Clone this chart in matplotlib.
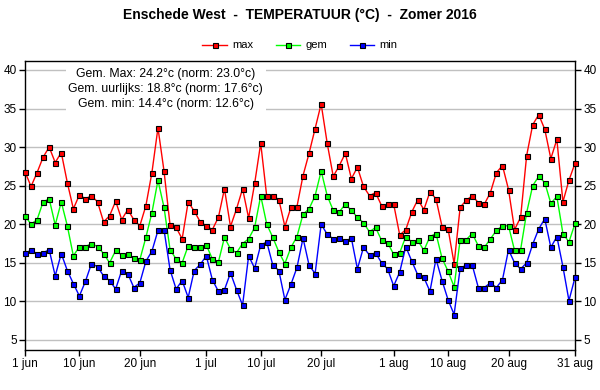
import matplotlib
matplotlib.use('Agg')
import matplotlib.pyplot as plt
import numpy as np

TITLE = 'Enschede West  -  TEMPERATUUR (°C)  -  Zomer 2016'

# daily values 1 jun .. 31 aug 2016
t_max = [26.8, 24.9, 26.7, 28.7, 30.0, 28.0, 29.3, 25.4, 22.0, 23.8,
         23.3, 23.7, 22.9, 20.3, 21.1, 23.0, 20.6, 21.9, 20.6, 19.8,
         22.4, 26.7, 32.5, 26.9, 19.9, 19.6, 18.1, 22.9, 21.7, 20.3,
         19.8, 19.3, 20.9, 24.6, 19.7, 22.0, 24.6, 20.8, 25.3, 30.5,
         23.6, 23.7, 23.2, 19.7, 22.2, 22.3, 26.3, 29.2, 32.4, 35.6,
         30.5, 26.2, 27.6, 29.2, 25.9, 27.4, 24.9, 23.7, 24.1, 22.4,
         22.6, 22.6, 18.6, 19.3, 21.6, 23.2, 21.9, 24.2, 23.3, 19.7,
         19.4, 14.9, 22.2, 23.1, 23.7, 22.8, 22.6, 24.1, 26.7, 27.6,
         24.5, 19.3, 20.9, 28.9, 32.9, 34.2, 32.3, 28.5, 31.0, 22.9,
         25.7, 27.9]
t_gem = [21.1, 20.0, 20.6, 22.9, 23.3, 19.9, 22.9, 19.8, 15.9, 17.1,
         17.1, 17.5, 17.1, 16.2, 15.0, 16.6, 16.0, 16.1, 15.6, 15.4,
         18.3, 21.5, 25.7, 22.2, 16.7, 15.5, 15.0, 17.2, 17.1, 17.1,
         17.3, 15.5, 15.1, 18.3, 16.8, 16.3, 17.5, 18.1, 19.6, 23.7,
         20.0, 18.3, 16.4, 14.9, 17.0, 18.4, 21.3, 22.0, 23.7, 26.9,
         23.7, 21.8, 21.6, 22.6, 21.8, 20.9, 20.2, 19.0, 19.6, 17.9,
         17.6, 16.1, 16.3, 18.4, 17.7, 17.9, 16.6, 18.4, 18.8, 15.6,
         13.9, 11.9, 18.0, 18.0, 18.8, 17.2, 17.0, 18.1, 19.2, 19.8,
         19.8, 16.6, 16.7, 21.5, 25.0, 26.2, 25.4, 22.7, 23.6, 18.8,
         17.7, 20.1]
t_min = [16.3, 16.6, 16.2, 16.3, 16.7, 13.3, 16.2, 14.0, 12.3, 10.7,
         12.6, 14.9, 14.5, 13.3, 12.7, 11.6, 14.0, 13.6, 11.8, 12.4,
         15.2, 16.5, 19.2, 19.3, 14.1, 11.6, 12.7, 10.5, 14.0, 14.8,
         15.9, 12.8, 11.3, 11.5, 13.7, 11.5, 9.5, 15.9, 14.3, 17.3,
         17.7, 14.7, 14.0, 10.2, 12.2, 14.4, 18.2, 14.7, 13.6, 20.0,
         18.7, 18.1, 18.2, 17.8, 18.2, 14.2, 17.0, 16.0, 16.3, 15.0,
         14.2, 12.0, 13.8, 17.1, 15.2, 13.4, 13.1, 11.3, 15.5, 12.7,
         10.2, 8.3, 14.3, 14.7, 14.7, 11.8, 11.8, 12.4, 11.8, 12.8,
         16.7, 15.0, 14.2, 15.0, 17.4, 19.4, 20.7, 17.0, 18.4, 14.5,
         10.1, 13.1]

tick_days = [0, 9, 19, 30, 39, 49, 61, 70, 80, 91]
tick_labels = ['1 jun', '10 jun', '20 jun', '1 jul', '10 jul', '20 jul',
               '1 aug', '10 aug', '20 aug', '31 aug']
y_ticks = [5, 10, 15, 20, 25, 30, 35, 40]

summary = ['Gem. Max: 24.2°c (norm: 23.0°c)',
           'Gem. uurlijks: 18.8°c (norm: 17.6°c)',
           'Gem. min: 14.4°c (norm: 12.6°c)']

plt.rcParams['font.family'] = ['Liberation Sans', 'DejaVu Sans']

fig = plt.figure(figsize=(6, 3.9), dpi=100)
ax = fig.add_axes([25/600, 1 - 350/390, 550/600, (350 - 60.7)/390])

days = np.arange(len(t_max))
for vals, col, name in [(t_max, '#ff0000', 'max'),
                        (t_gem, '#00ff00', 'gem'),
                        (t_min, '#0000ff', 'min')]:
    ax.plot(days, vals, color=col, lw=1, marker='s', ms=3.6,
            mfc=col, mec='black', mew=0.8, label=name, clip_on=False, zorder=3)

ax.set_xlim(0, 91)
ax.set_ylim(3.7, 41.2)
ax.set_yticks(y_ticks)
ax.set_xticks(tick_days)
ax.set_xticklabels(tick_labels)
ax.grid(axis='y', color='#c0c0c0', lw=1)
ax.set_axisbelow(True)
ax.tick_params(axis='both', direction='out', length=4, width=1, labelsize=8.5,
               pad=2)
ax.tick_params(axis='y', right=True, labelright=True)
for s in ax.spines.values():
    s.set_linewidth(1)

ax.text(0.256, 0.975, '\n'.join(summary), transform=ax.transAxes,
        ha='center', va='top', fontsize=8.8, linespacing=1.32, zorder=2,
        bbox=dict(facecolor='white', edgecolor='none', pad=2))

fig.text(0.5, 0.962, TITLE, ha='center', va='center', fontsize=10,
         fontweight='bold')
fig.legend(loc='center', bbox_to_anchor=(0.5, 1 - 45.5/390), ncol=3,
           frameon=False, fontsize=8, handlelength=2.2, columnspacing=2.0,
           handletextpad=0.5)

fig.savefig('out.png', dpi=100)
